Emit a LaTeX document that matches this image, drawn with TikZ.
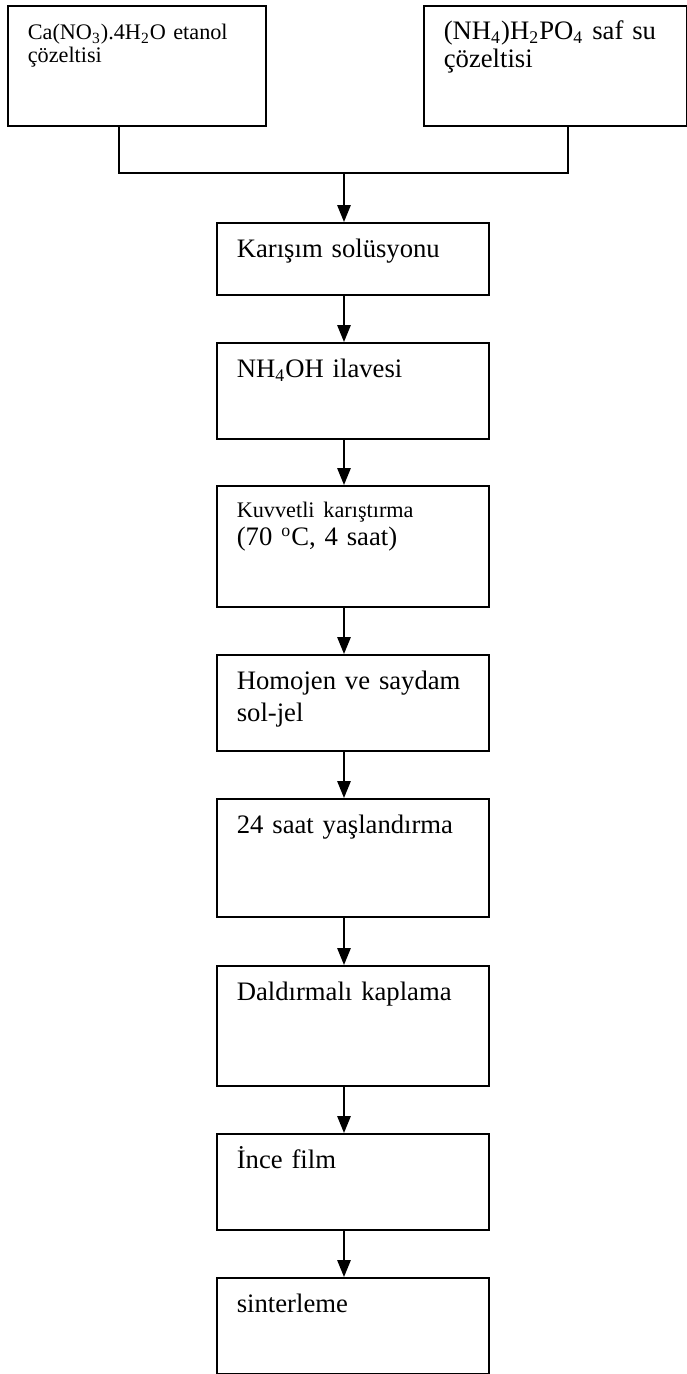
\documentclass[tikz,border=0pt]{standalone}
\usepackage{fontspec}
\setmainfont{Liberation Serif}
\usetikzlibrary{positioning, calc, arrows.meta}

\tikzset{
  stepbox/.style={draw, line width=0.75pt, anchor=north west,
    inner xsep=9pt, inner ysep=0pt, align=left, text width=104.4pt,
    font=\fontsize{12}{13.8}\selectfont,
    text height=15.75pt, text depth={(#1-35)*0.45pt}},
  srcbox/.style={stepbox=120, text height=15.3pt, text depth=38.7pt},
  joinline/.style={line width=0.75pt},
  flowarrow/.style={line width=0.75pt, -{Triangle[length=7.6pt,width=6pt]}}
}

\begin{document}
\begin{tikzpicture}[x=0.45pt, y=-0.45pt]
        % 1px = 0.45pt, picture is 687 x 1374 px
        \useasboundingbox (0,0) rectangle (687,1374);

        % Baslangic cozeltileri
        \node[srcbox, text width=98.1pt, font=\fontsize{10}{10.4}\selectfont] (caSol) at (7,5)
          {Ca(NO\textsubscript{3}).4H\textsubscript{2}O etanol\\çözeltisi};
        \node[srcbox, text width=100.35pt] (phSol) at (423,5)
          {(NH\textsubscript{4})H\textsubscript{2}PO\textsubscript{4} saf su\\[-1.2pt]çözeltisi};

        % Islem adimlari
        \node[stepbox=72] (mix) at (216,222) {Karışım solüsyonu};
        \node[stepbox=96] (nh4oh) at (216,342) {NH\textsubscript{4}OH ilavesi};
        \node[stepbox=121, text height=14.4pt, text depth={(121-32)*0.45pt}] (stir) at (216,485)
          {{\fontsize{10}{11}\selectfont Kuvvetli karıştırma}\\[-1.2pt](70 \textsuperscript{o}C, 4 saat)};
        \node[stepbox=96] (soljel) at (216,654) {Homojen ve saydam\\[0.6pt]sol-jel};
        \node[stepbox=118] (aging) at (216,798) {24 saat yaşlandırma};
        \node[stepbox=120] (dip) at (216,965) {Daldırmalı kaplama};
        \node[stepbox=96] (film) at (216,1133) {İnce film};
        \node[stepbox=96] (sinter) at (216,1277) {sinterleme};

        % Birlesme
        \coordinate (spine) at (344,0);
        \coordinate (joinL) at (119,173);
        \coordinate (joinR) at (568,173);
        \coordinate (joinM) at (344,173);
        \draw[joinline] (caSol.south -| joinL) -- (joinL) -- (joinR) -- (phSol.south -| joinR);
        \draw[flowarrow] (joinM) -- (mix.north -| spine);

        % Oklar
        \foreach \a/\b in {mix/nh4oh, nh4oh/stir, stir/soljel, soljel/aging,
                           aging/dip, dip/film, film/sinter}
          \draw[flowarrow] (\a.south -| spine) -- (\b.north -| spine);
    \end{tikzpicture}
\end{document}
